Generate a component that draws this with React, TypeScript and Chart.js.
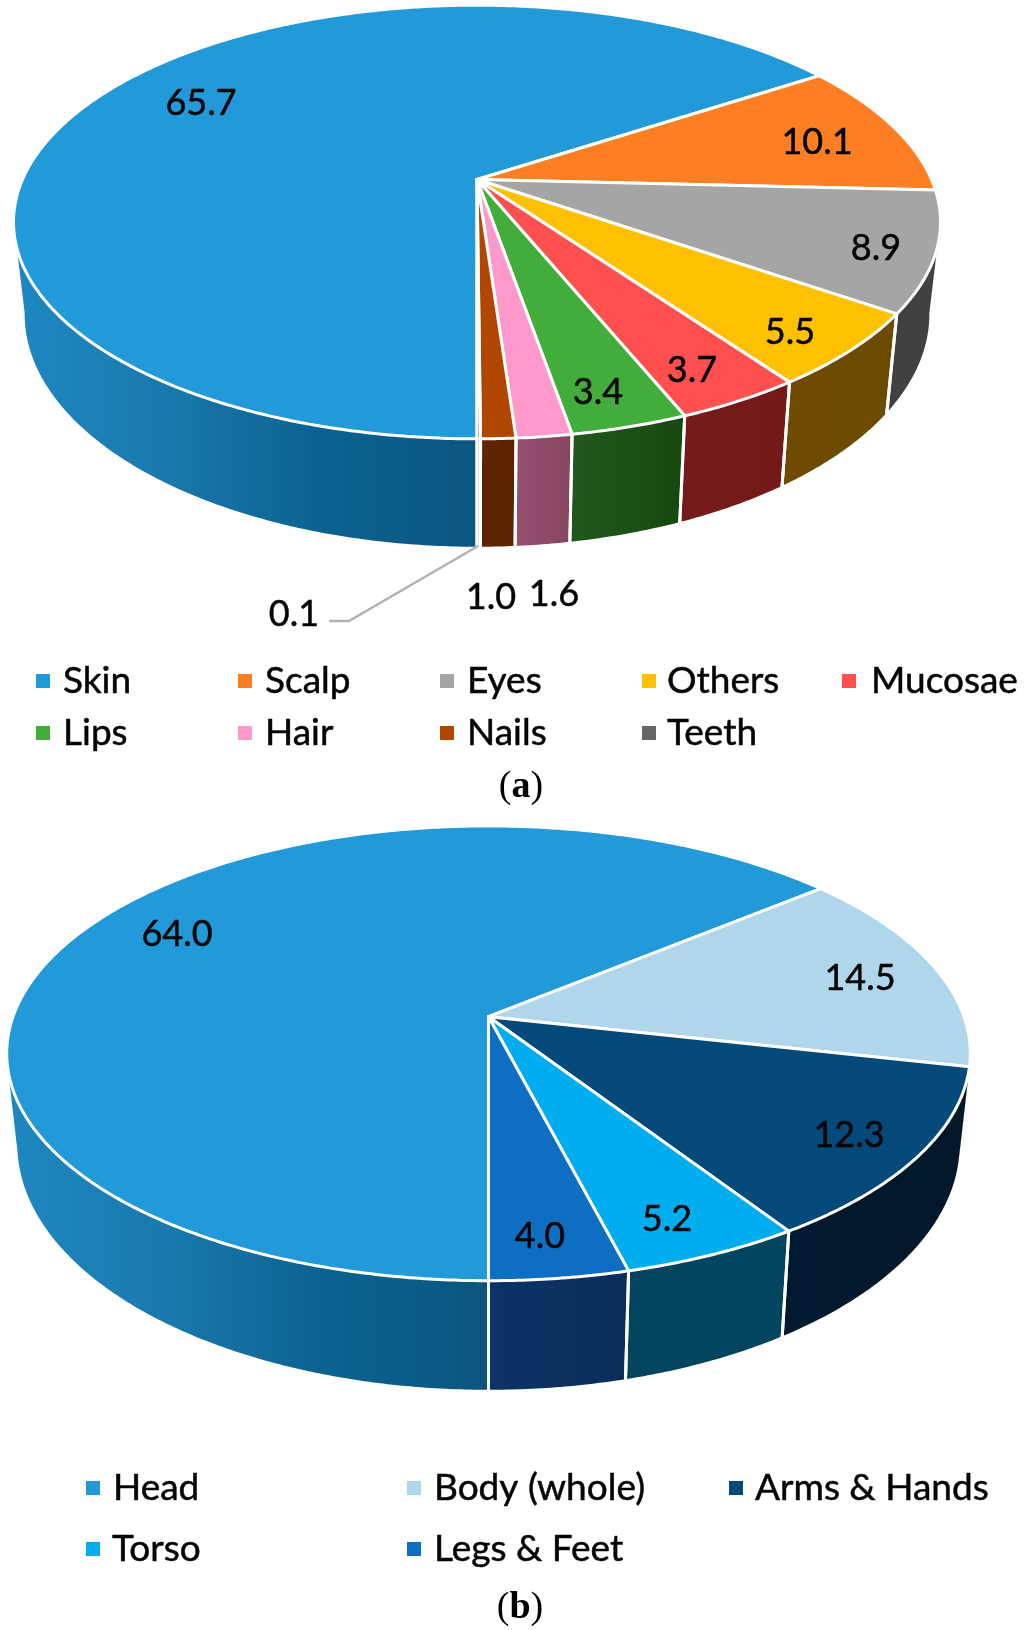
import React, { useEffect, useRef } from "react";
import { Chart, registerables } from "chart.js";

Chart.register(...registerables);

// ---- data: chart (a)
const categoriesA = ["Skin", "Scalp", "Eyes", "Others", "Mucosae", "Lips", "Hair", "Nails", "Teeth"];
const valuesA = [65.7, 10.1, 8.9, 5.5, 3.7, 3.4, 1.6, 1.0, 0.1];
const textsA = ["65.7", "10.1", "8.9", "5.5", "3.7", "3.4", "1.6", "1.0", "0.1"];
const topColorsA = ["#2299D8", "#FD7E23", "#A5A5A5", "#FFC000", "#FF5050", "#43AD3B", "#FF99CC", "#B04600", "#666666"];
const skinWall = ["#1E88C2", "#1A78AC", "#0A6290", "#0B5580"];
const wallColorsA = [
  skinWall,
  ["#8A4A18", "#8A4A18"],
  ["#414141", "#414141"],
  ["#6E4B00", "#6C4A00"],
  ["#761A1A", "#741919"],
  ["#20591D", "#164810"],
  ["#955070", "#86465F"],
  ["#5E2600", "#5A2400"],
  ["#777777", "#777777"],
];

// ---- data: chart (b)
const categoriesB = ["Head", "Body (whole)", "Arms & Hands", "Torso", "Legs & Feet"];
const valuesB = [64.0, 14.5, 12.3, 5.2, 4.0];
const textsB = ["64.0", "14.5", "12.3", "5.2", "4.0"];
const topColorsB = ["#2299D8", "#B0D6EC", "#034A7A", "#00AEEF", "#0E6EC1"];
const wallColorsB = [
  skinWall,
  ["#021A30", "#021A30"],
  ["#021A30", "#021829"],
  ["#03445F", "#03445F"],
  ["#0C3267", "#0B2E58"],
];

// ---- layout (page px)
const geometryA = {
  top: 0, height: 805, cx: 477, cy: 179.5, R: 454.5, b: 208.5, k: 0.196,
  shrink: 0.976, grow: 1.073, drop: 89,
  labelAt: [[201, 103], [817, 142], [876, 248], [790, 332], [692, 370], [598, 392], [554, 594], [491, 597], [294, 614]],
  leader: [[478, 546], [349, 621], [329, 621]],
  legendRows: [
    [[36, 63], [238, 265], [440, 467], [642, 667], [842, 871]],
    [[36, 63], [238, 265], [440, 467], [642, 667]],
  ],
  legendY: [681, 733],
  caption: { open: "(", letter: "a", close: ")", x: 521, y: 787 },
};
const geometryB = {
  top: 805, height: 825, cx: 488.5, cy: 1016.7, R: 475.5, b: 221.5, k: 0.161,
  shrink: 0.978, grow: 1.08, drop: 88,
  labelAt: [[177, 934], [860, 978], [849, 1135], [667, 1219], [540, 1236]],
  leader: null,
  legendRows: [
    [[86, 113], [407, 434], [729, 755]],
    [[86, 112], [407, 434]],
  ],
  legendY: [1488, 1549],
  caption: { open: "(", letter: "b", close: ")", x: 520, y: 1608 },
};

const TEXT_FONT = "Lato, 'Open Sans', sans-serif";
const SERIF = "'Liberation Serif', serif";
const DEG = Math.PI / 180;

function makePie3d(geo: any, walls: string[][], texts: string[]) {
  const rim = (t: number) => {
    const d = 1 - geo.k * Math.sin(t);
    return [geo.cx + (geo.R * Math.cos(t)) / d, geo.cy - geo.top + (geo.b * Math.sin(t)) / d];
  };
  const lowRim = (t: number) => {
    const [x, y] = rim(t);
    return [geo.cx + geo.shrink * (x - geo.cx), geo.cy - geo.top + geo.drop + geo.grow * (y - (geo.cy - geo.top))];
  };
  const sample = (a: number, b: number) => {
    const n = Math.max(2, Math.ceil((b - a) / (0.5 * DEG)));
    const out: number[] = [];
    for (let i = 0; i <= n; i++) out.push(a + ((b - a) * i) / n);
    return out;
  };
  const w0 = 11 * DEG;
  const w1 = 169 * DEG;
  const solidText = (ctx: any, text: string, x: number, y: number) => {
    ctx.fillText(text, x, y);
    ctx.strokeText(text, x, y);
  };

  return {
    id: "pie3d",
    beforeDatasetDraw(chart: any) {
      const ctx = chart.ctx;
      const arcs = chart.getDatasetMeta(0).data;
      ctx.save();
      ctx.lineJoin = "round";
      const seams: number[] = [];
      // side walls
      arcs.forEach((arc: any, i: number) => {
        const windows = [[w0, w1], [w0 + 2 * Math.PI, w1 + 2 * Math.PI]];
        windows.forEach(([lo, hi]) => {
          const a = Math.max(arc.startAngle, lo);
          const b = Math.min(arc.endAngle, hi);
          if (b <= a) return;
          const ts = sample(a, b);
          const top = ts.map(rim);
          const low = ts.map(lowRim).reverse();
          const pts = [...top, ...low];
          const xs = pts.map((p) => p[0]);
          const g = ctx.createLinearGradient(Math.min(...xs), 0, Math.max(...xs), 0);
          const stops = walls[i];
          stops.forEach((c, j) => g.addColorStop(j / (stops.length - 1), c));
          ctx.beginPath();
          pts.forEach((p, j) => (j ? ctx.lineTo(p[0], p[1]) : ctx.moveTo(p[0], p[1])));
          ctx.closePath();
          ctx.fillStyle = g;
          ctx.fill();
          // seams close to the silhouette are hidden in the picture
          if (a > lo && Math.sin(a) > 0.3) seams.push(a);
          if (b < hi && Math.sin(b) > 0.3) seams.push(b);
        });
      });
      // white seams between the walls
      ctx.strokeStyle = "#ffffff";
      ctx.lineWidth = 3;
      ctx.lineCap = "butt";
      seams.forEach((t) => {
        const p = rim(t);
        const q = lowRim(t);
        ctx.beginPath();
        ctx.moveTo(p[0], p[1]);
        ctx.lineTo(q[0], q[1] + 1);
        ctx.stroke();
      });
      // top face
      arcs.forEach((arc: any, i: number) => {
        ctx.beginPath();
        ctx.moveTo(geo.cx, geo.cy - geo.top);
        sample(arc.startAngle, arc.endAngle).map(rim).forEach((p) => ctx.lineTo(p[0], p[1]));
        ctx.closePath();
        ctx.fillStyle = chart.data.datasets[0].backgroundColor[i];
        ctx.fill();
        ctx.strokeStyle = "#ffffff";
        ctx.lineWidth = 3;
        ctx.stroke();
      });
      ctx.restore();
      return false;
    },
    afterDraw(chart: any) {
      const ctx = chart.ctx;
      const dy = -geo.top;
      ctx.save();
      // leader line
      if (geo.leader) {
        ctx.beginPath();
        geo.leader.forEach((p: number[], j: number) =>
          j ? ctx.lineTo(p[0], p[1] + dy) : ctx.moveTo(p[0], p[1] + dy)
        );
        ctx.strokeStyle = "#B2B2B2";
        ctx.lineWidth = 2.5;
        ctx.stroke();
      }
      // value labels
      ctx.fillStyle = "#050505";
      ctx.strokeStyle = "#050505";
      ctx.lineWidth = 0.5;
      ctx.lineJoin = "round";
      ctx.font = `36px ${TEXT_FONT}`;
      ctx.textAlign = "center";
      ctx.textBaseline = "middle";
      texts.forEach((t, i) => solidText(ctx, t, geo.labelAt[i][0], geo.labelAt[i][1] + dy));
      // legend
      ctx.textAlign = "left";
      ctx.font = `37px ${TEXT_FONT}`;
      let idx = 0;
      geo.legendRows.forEach((row: number[][], r: number) => {
        const y = geo.legendY[r] + dy;
        row.forEach(([sx, tx]) => {
          ctx.fillStyle = chart.data.datasets[0].backgroundColor[idx];
          ctx.fillRect(sx, y - 7, 14, 14);
          ctx.fillStyle = "#050505";
          solidText(ctx, chart.data.labels[idx], tx, y);
          idx++;
        });
      });
      // caption
      const cap = geo.caption;
      ctx.font = `38px ${SERIF}`;
      const pw = ctx.measureText(cap.open).width;
      ctx.font = `bold 38px ${SERIF}`;
      const lw = ctx.measureText(cap.letter).width;
      let x = cap.x - (2 * pw + lw) / 2;
      ctx.fillStyle = "#000000";
      ctx.font = `38px ${SERIF}`;
      ctx.fillText(cap.open, x, cap.y + dy);
      x += pw;
      ctx.font = `bold 38px ${SERIF}`;
      ctx.fillText(cap.letter, x, cap.y + dy);
      x += lw;
      ctx.font = `38px ${SERIF}`;
      ctx.fillText(cap.close, x, cap.y + dy);
      ctx.restore();
    },
  };
}

function Pie({ labels, values, colors, walls, texts, geo }: any) {
  const ref = useRef<HTMLCanvasElement>(null);
  useEffect(() => {
    const chart = new Chart(ref.current as HTMLCanvasElement, {
      type: "pie",
      data: { labels, datasets: [{ data: values, backgroundColor: colors, borderWidth: 0 }] },
      options: {
        animation: false,
        responsive: false,
        devicePixelRatio: 1,
        rotation: 180,
        plugins: { legend: { display: false }, tooltip: { enabled: false }, title: { display: false } },
      },
      plugins: [makePie3d(geo, walls, texts)],
    } as any);
    return () => chart.destroy();
  }, []);
  return (
    <canvas
      ref={ref}
      width={1024}
      height={geo.height}
      style={{ position: "absolute", left: 0, top: geo.top, width: 1024, height: geo.height, display: "block" }}
    />
  );
}

export default function App() {
  return (
    <div style={{ position: "absolute", left: 0, top: 0, width: 1024, height: 1630, background: "#ffffff", overflow: "hidden" }}>
      <Pie labels={categoriesA} values={valuesA} colors={topColorsA} walls={wallColorsA} texts={textsA} geo={geometryA} />
      <Pie labels={categoriesB} values={valuesB} colors={topColorsB} walls={wallColorsB} texts={textsB} geo={geometryB} />
    </div>
  );
}
